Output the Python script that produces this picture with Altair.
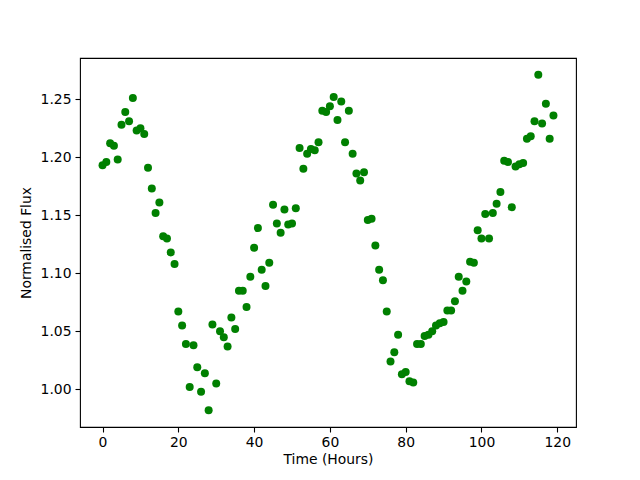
import altair as alt
import pandas as pd

hours = list(range(120))
flux = [
    1.193, 1.196, 1.212, 1.210, 1.198, 1.228, 1.239, 1.231, 1.251, 1.223,
    1.225, 1.220, 1.191, 1.173, 1.152, 1.161, 1.132, 1.130, 1.118, 1.108,
    1.067, 1.055, 1.039, 1.002, 1.038, 1.019, 0.998, 1.014, 0.982, 1.056,
    1.005, 1.050, 1.045, 1.037, 1.062, 1.052, 1.085, 1.085, 1.071, 1.097,
    1.122, 1.139, 1.103, 1.089, 1.109, 1.159, 1.143, 1.135, 1.155, 1.142,
    1.143, 1.156, 1.208, 1.190, 1.203, 1.207, 1.206, 1.213, 1.240, 1.239,
    1.244, 1.252, 1.232, 1.248, 1.213, 1.240, 1.203, 1.186, 1.180, 1.187,
    1.146, 1.147, 1.124, 1.103, 1.094, 1.067, 1.024, 1.032, 1.047, 1.013,
    1.015, 1.007, 1.006, 1.039, 1.039, 1.046, 1.047, 1.050, 1.055, 1.057,
    1.058, 1.068, 1.068, 1.076, 1.097, 1.085, 1.093, 1.110, 1.109, 1.137,
    1.130, 1.151, 1.130, 1.152, 1.160, 1.170, 1.197, 1.196, 1.157, 1.192,
    1.194, 1.195, 1.216, 1.218, 1.231, 1.271, 1.229, 1.246, 1.216, 1.236,
]
x_ticks = [0, 20, 40, 60, 80, 100, 120]
y_ticks = [1.00, 1.05, 1.10, 1.15, 1.20, 1.25]

df = pd.DataFrame({"Time": hours, "Flux": flux})

FONT = "DejaVu Sans"

chart = alt.Chart(df).mark_circle(size=64, opacity=1, color="#008000").encode(
    x=alt.X("Time:Q",
            scale=alt.Scale(domain=[-5.95, 124.95], nice=False, zero=False),
            axis=alt.Axis(title="Time (Hours)", values=x_ticks, format="d",
                          grid=False, tickSize=5, labelPadding=3,
                          titlePadding=4, domain=False)),
    y=alt.Y("Flux:Q",
            scale=alt.Scale(domain=[0.9676, 1.2855], nice=False, zero=False),
            axis=alt.Axis(title="Normalised Flux", values=y_ticks, format=".2f",
                          grid=False, tickSize=5, labelPadding=4,
                          titlePadding=7, domain=False)),
).properties(
    width=496, height=369,
    autosize=alt.AutoSizeParams(type="none"),
    padding={"left": 72, "top": 50, "right": 56, "bottom": 45},
).configure_view(
    stroke="black", strokeWidth=1.1
).configure_axis(
    labelFont=FONT, titleFont=FONT, labelFontSize=13.9, titleFontSize=13.9,
    labelColor="black", titleColor="black", tickColor="black",
    titleFontWeight="normal", tickWidth=1.1,
)

chart.save("out.html", embed_options={"renderer": "svg", "actions": False})
